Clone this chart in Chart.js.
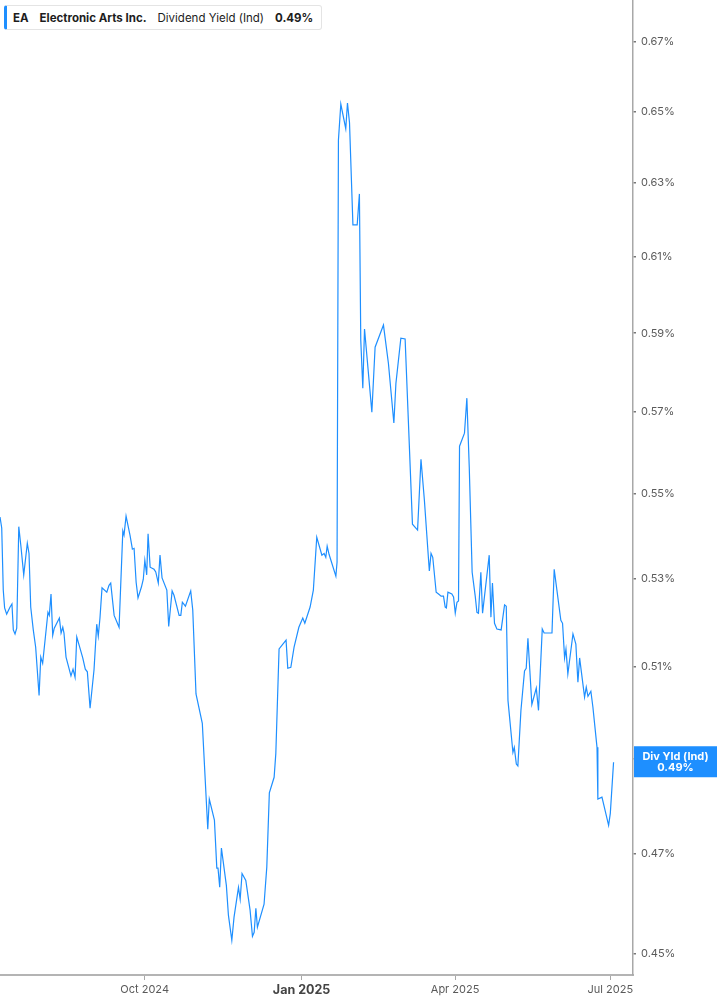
<!DOCTYPE html>
<html>
<head>
<meta charset="utf-8">
<script src="https://cdn.jsdelivr.net/npm/chart.js@4.4.1/dist/chart.umd.min.js"></script>
<style>
  html, body { margin: 0; padding: 0; background: #fff; }
  #wrap { position: relative; width: 717px; height: 1005px; }
  #legend {
    position: absolute; left: 4px; top: 5px; height: 25px; width: 318px;
    box-sizing: border-box; border: 1px solid #e4e4e4; border-left: 3px solid #1e8fff;
    border-radius: 3px; background: #fff;
    font-family: Inter, "Noto Sans", sans-serif; font-size: 11.5px; color: #1d1d1d;
    display: flex; align-items: center; padding-left: 6px; white-space: nowrap;
  }
  #legend span { margin-right: 11px; }
  #legend .b { font-weight: 700; }
</style>
</head>
<body>
<div id="wrap">
  <canvas id="chart"></canvas>
  <div id="legend">
    <span class="b">EA</span>
    <span class="b">Electronic Arts Inc.</span>
    <span>Dividend Yield (Ind)</span>
    <span class="b">0.49%</span>
  </div>
</div>
<script>
// days counted from 1 Jul 2024
const days = [
  7.2, 8.2, 9.1, 9.9, 11.1, 13.1, 14.2, 15.0, 16.0, 17.0, 18.2, 19.5, 21.1, 23.2, 24.2, 25.2, 26.7, 28.1, 30.1, 31.1,
  32.2, 33.8, 35.3, 36.1, 37.1, 38.1, 39.0, 42.0, 43.0, 44.0, 44.7, 45.9, 48.8, 50.0, 51.2, 52.2, 53.7, 55.7, 57.2, 58.4,
  60.0, 62.3, 63.9, 64.8, 65.8, 67.0, 69.8, 71.1, 72.1, 74.1, 77.0, 79.2, 79.9, 81.1, 83.4, 84.8, 85.8, 87.0, 88.1, 90.1,
  91.2, 92.1, 93.2, 94.0, 95.2, 97.5, 98.5, 100.0, 101.0,
  102.2, 105.0, 106.1, 108.1, 109.2, 112.2, 113.2, 114.1, 115.9, 119.0, 120.2, 122.1, 125.8, 129.0, 129.9, 132.9, 134.3,
  135.0, 136.0, 137.0, 139.9, 141.1, 143.1, 144.4, 147.0, 148.0, 149.1, 151.3, 153.8, 155.2, 156.2, 157.2, 158.1, 162.0,
  163.6, 165.1, 167.9, 168.9, 170.8, 174.9, 175.9, 177.7, 179.6, 182.4, 184.7, 185.9, 189.0,
  190.9, 192.9, 195.9, 197.2, 198.2, 199.0, 200.1, 204.1, 204.8, 205.6, 207.0, 209.9, 210.9, 212.1, 214.1, 216.6, 217.9,
  218.7, 219.9, 220.9, 225.2, 227.1, 232.0, 234.9, 238.1, 239.3, 242.2, 244.7,
  249.0, 252.0, 254.0, 256.0, 258.9, 259.9, 260.9, 262.9, 264.3, 265.8, 267.2, 268.2, 268.9, 269.8, 272.1, 273.1, 274.1,
  275.1, 276.0, 276.6, 279.5, 280.9, 282.3, 284.0, 285.8, 286.8, 287.7, 289.1, 290.1, 294.0, 295.0, 295.9, 297.1, 298.5,
  301.0, 303.0, 304.0, 305.0,
  307.9, 308.7, 309.9, 310.8, 312.6, 314.7, 315.7, 316.7, 319.0, 321.6, 322.9, 325.1, 326.2, 330.8, 332.1, 336.0, 337.0,
  338.2, 339.0, 340.1, 343.1, 344.8, 346.0, 347.0, 349.9, 350.9, 351.9, 353.6, 354.8, 357.2, 357.7, 360.1, 364.0, 365.0, 366.9
];

// dividend yield, %
const yields = [
  0.5445, 0.5419, 0.5274, 0.5233, 0.5219, 0.5235, 0.5242, 0.5183, 0.5174, 0.5187, 0.5422, 0.5374, 0.5309, 0.5383, 0.5359,
  0.5235, 0.5183, 0.5144, 0.5037, 0.5122, 0.5108, 0.5167, 0.5223, 0.5216, 0.5265, 0.5171, 0.5187, 0.5210, 0.5176, 0.5189,
  0.5176, 0.5122, 0.5080, 0.5095, 0.5077, 0.5167, 0.5147, 0.5120, 0.5095, 0.5089, 0.5009, 0.5093, 0.5196, 0.5169, 0.5210,
  0.5279, 0.5269, 0.5285, 0.5290, 0.5216, 0.5189, 0.5412, 0.5402, 0.5447, 0.5402, 0.5369, 0.5371, 0.5292, 0.5256, 0.5281,
  0.5299, 0.5343, 0.5309, 0.5405, 0.5327, 0.5322, 0.5316, 0.5290, 0.5355,
  0.5302, 0.5274, 0.5191, 0.5272, 0.5262, 0.5216, 0.5216, 0.5246, 0.5237, 0.5272, 0.5228, 0.5040, 0.4976, 0.4751, 0.4814,
  0.4770, 0.4671, 0.4671, 0.4632, 0.4712, 0.4636, 0.4576, 0.4526, 0.4572, 0.4632, 0.4608, 0.4660, 0.4646, 0.4586, 0.4534,
  0.4542, 0.4590, 0.4552, 0.4598, 0.4673, 0.4827, 0.4860, 0.4911, 0.5140, 0.5160, 0.5097, 0.5099, 0.5144, 0.5189, 0.5210,
  0.5198, 0.5235,
  0.5274, 0.5397, 0.5355, 0.5359, 0.5350, 0.5376, 0.5357, 0.5306, 0.5339, 0.6419, 0.6521, 0.6451, 0.6524, 0.6468, 0.6186,
  0.6186, 0.6270, 0.5882, 0.5760, 0.5911, 0.5700, 0.5864, 0.5921, 0.5823, 0.5673, 0.5772, 0.5887, 0.5885,
  0.5428, 0.5414, 0.5584, 0.5485, 0.5318, 0.5359, 0.5350, 0.5269, 0.5265, 0.5260, 0.5260, 0.5235, 0.5233, 0.5269, 0.5265,
  0.5258, 0.5221, 0.5246, 0.5249, 0.5616, 0.5648, 0.5735, 0.5565, 0.5315, 0.5260, 0.5223, 0.5221, 0.5315, 0.5221, 0.5355,
  0.5212, 0.5290, 0.5198, 0.5185, 0.5183, 0.5240, 0.5237, 0.5026,
  0.4913, 0.4924, 0.4888, 0.4884, 0.5004, 0.5091, 0.5097, 0.5164, 0.5017, 0.5053, 0.5004, 0.5185, 0.5176, 0.5176, 0.5322,
  0.5205, 0.5198, 0.5120, 0.5140, 0.5084, 0.5174, 0.5151, 0.5066, 0.5120, 0.5033, 0.5055, 0.5035, 0.5046, 0.5011, 0.4924,
  0.4814, 0.4818, 0.4759, 0.4784, 0.4892
];

const xTickDays = [92, 184, 274, 365];
const xTickLabels = ["Oct 2024", "Jan 2025", "Apr 2025", "Jul 2025"];
const yTicks = [0.45, 0.47, 0.49, 0.51, 0.53, 0.55, 0.57, 0.59, 0.61, 0.63, 0.65, 0.67];

const BLUE = "#1e8fff";
const FONT = "Inter, 'Noto Sans', sans-serif";

// blue value tag on the right axis
const lastValueTag = {
    id: "lastValueTag",
    afterDraw(chart) {
        const { ctx, chartArea, scales } = chart;
        const last = yields[yields.length - 1];
        const y = scales.y.getPixelForValue(last);
        const left = chartArea.right + 1;
        const w = chart.width - left;
        ctx.save();
        ctx.fillStyle = BLUE;
        ctx.fillRect(left, y - 16, w, 31);
        ctx.fillStyle = "#fff";
        ctx.font = "700 11px " + FONT;
        ctx.textAlign = "center";
        ctx.textBaseline = "middle";
        ctx.fillText("Div Yld (Ind)", left + w / 2, y - 6);
        ctx.fillText(last.toFixed(2) + "%", left + w / 2, y + 5);
        ctx.restore();
    }
};

new Chart(document.getElementById("chart"), {
    type: "line",
    data: {
        datasets: [{
            data: days.map((d, i) => ({ x: d, y: yields[i] })),
            borderColor: BLUE,
            borderWidth: 1.2,
            pointRadius: 0,
            tension: 0
        }]
    },
    options: {
        responsive: true,
        maintainAspectRatio: false,
        animation: false,
        layout: { padding: 0 },
        plugins: { legend: { display: false }, tooltip: { enabled: false } },
        scales: {
            x: {
                type: "linear",
                min: 7.19,
                max: 378.3,
                afterBuildTicks: scale => { scale.ticks = xTickDays.map(v => ({ value: v })); },
                afterFit: scale => { scale.height = 30; scale.paddingLeft = 0; scale.paddingRight = 0; },
                border: { display: true, color: "#b4b4b4", width: 2 },
                grid: { drawOnChartArea: false, drawTicks: true, tickLength: 5, color: "#a8a8a8", lineWidth: 1 },
                ticks: {
                    maxRotation: 0,
                    padding: 3,
                    callback: (v, i) => xTickLabels[i],
                    color: ctx => (ctx.tick && ctx.tick.value === 184) ? "#444" : "#5a5a5a",
                    font: ctx => (ctx.tick && ctx.tick.value === 184)
                        ? { family: FONT, size: 12.5, weight: "700" }
                        : { family: FONT, size: 11, weight: "400" }
                }
            },
            y: {
                type: "logarithmic",
                position: "right",
                min: 0.4458,
                max: 0.6824,
                afterBuildTicks: scale => { scale.ticks = yTicks.map(v => ({ value: v })); },
                afterFit: scale => { scale.width = 84; scale.paddingTop = 0; scale.paddingBottom = 0; },
                border: { display: true, color: "#a8a8a8", width: 1.5 },
                grid: { drawOnChartArea: false, drawTicks: true, tickLength: 3, color: "#777", lineWidth: 1.5 },
                ticks: {
                    padding: 5,
                    color: "#5a5a5a",
                    font: { family: FONT, size: 11 },
                    callback: v => v.toFixed(2) + "%"
                }
            }
        }
    },
    plugins: [lastValueTag]
});
</script>
</body>
</html>
